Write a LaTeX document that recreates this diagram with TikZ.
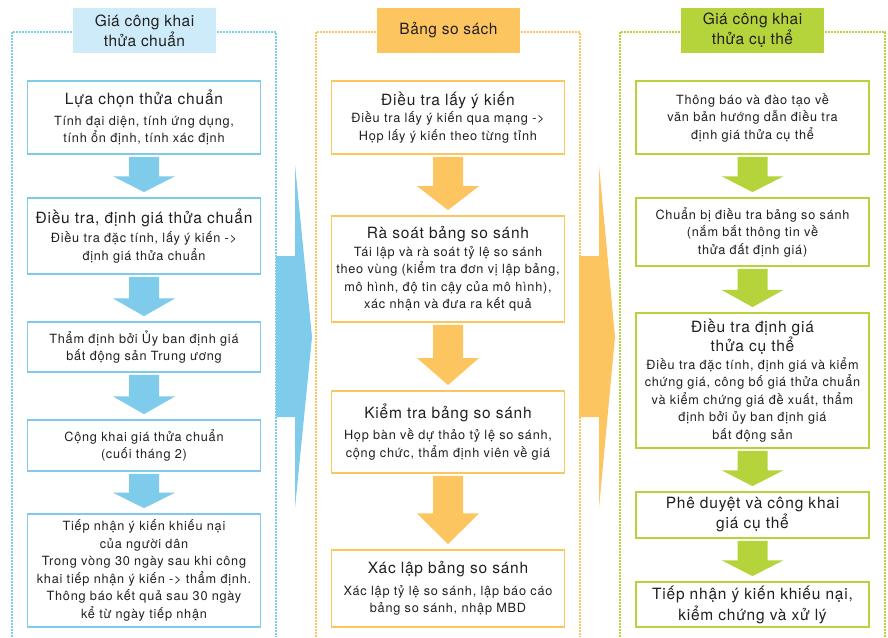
\documentclass[tikz,border=0pt]{standalone}
\usepackage{fontspec}
\setmainfont{TeX Gyre Heros}
\newfontfamily\bodyfam[LetterSpace=6]{TeX Gyre Heros}
\newfontfamily\headfam[LetterSpace=5]{TeX Gyre Heros}
\newfontfamily\colfam[LetterSpace=3]{TeX Gyre Heros}
\usetikzlibrary{calc}
\definecolor{bluefill}{HTML}{7ECBEB}
\definecolor{bluelight}{HTML}{CDEBF9}
\definecolor{orangefill}{HTML}{FDC560}
\definecolor{greenfill}{HTML}{B5D33B}
\definecolor{inktext}{HTML}{231F20}
\newcommand{\boxhead}[1]{{\headfam\fontsize{15.5}{19}\selectfont #1}}
\begin{document}
\begin{tikzpicture}[x=1pt, y=-1pt,
    stepbox/.style={draw=#1, line width=1.8pt, fill=white, text=inktext, align=center,
        inner sep=0pt, font=\bodyfam\fontsize{12.7}{17.5}\selectfont},
    headbox/.style={fill=#1, text=inktext, align=center, inner sep=0pt,
        minimum width=143, minimum height=45, font=\colfam\fontsize{15.5}{20}\selectfont},
    framedash/.style={draw=#1, line width=1.3pt, dash pattern=on 1.6pt off 1.4pt}]
    \useasboundingbox (0,0) rectangle (888,637);
    \def\colwidth{233}
    % block arrow between two boxes
    \def\flowarrow#1#2#3{%
        \coordinate (s) at ($(#1.south)+(0,2)$);
        \coordinate (t) at ($(#2.north)+(0,-5)$);
        \coordinate (m) at ($(s)!0.55!(t)$);
        \fill[#3] ($(s)+(-15,0)$) -- ($(s)+(15,0)$) -- ($(m)+(15,0)$) -- ($(m)+(31,0)$)
            -- (t) -- ($(m)+(-31,0)$) -- ($(m)+(-15,0)$) -- cycle;}
    % big arrows between columns
    \fill[bluefill] (276,256) -- (295,256) -- (295,165) -- (312,337) -- (295,508) -- (295,417) -- (276,417) -- cycle;
    \fill[orangefill] (579,256) -- (599,256) -- (599,165) -- (615,337) -- (599,508) -- (599,417) -- (579,417) -- cycle;
    % frames
    \draw[framedash=bluefill] (12,637) -- (12,32) -- (276,32) -- (276,637);
    \draw[framedash=orangefill] (316,637) -- (316,32) -- (580,32) -- (580,637);
    \draw[framedash=greenfill] (620,637) -- (620,32) -- (885,32) -- (885,637);
    % headings
    \node[headbox=bluelight] (bluehead) at (144.5,30.5) {Giá công khai\\thửa chuẩn};
    \node[headbox=orangefill] (orangehead) at (448.5,30.5) {Bảng so sách};
    \node[headbox=greenfill] (greenhead) at (752.5,30.5) {Giá công khai\\thửa cụ thể};
    % left column
    \node[stepbox=bluefill, minimum width=\colwidth, minimum height=73] (l1) at (144,117.5)
        {\boxhead{Lựa chọn thửa chuẩn}\\[3pt]Tính đại diện, tính ứng dụng,\\tính ổn định, tính xác định};
    \node[stepbox=bluefill, minimum width=\colwidth, minimum height=76] (l2) at (144,236)
        {\boxhead{Điều tra, định giá thửa chuẩn}\\[2pt]Điều tra đặc tính, lấy ý kiến ->\\định giá thửa chuẩn};
    \node[stepbox=bluefill, minimum width=\colwidth, minimum height=50] (l3) at (144,347)
        {Thẩm định bởi Ủy ban định giá\\bất động sản Trung ương};
    \node[stepbox=bluefill, minimum width=\colwidth, minimum height=51] (l4) at (144,445.5)
        {Cộng khai giá thửa chuẩn\\(cuối tháng 2)};
    \node[stepbox=bluefill, minimum width=\colwidth, minimum height=113] (l5) at (144,570.5)
        {Tiếp nhận ý kiến khiếu nại\\của người dân\\Trong vòng 30 ngày sau khi công\\khai tiếp nhận ý kiến -> thẩm định.\\Thông báo kết quả sau 30 ngày\\kể từ ngày tiếp nhận};
    % middle column
    \node[stepbox=orangefill, minimum width=\colwidth, minimum height=73] (m1) at (448,117.5)
        {\boxhead{Điều tra lấy ý kiến}\\Điều tra lấy ý kiến qua mạng ->\\Họp lấy ý kiến theo từng tỉnh};
    \node[stepbox=orangefill, minimum width=\colwidth, minimum height=106] (m2) at (448,269)
        {\boxhead{Rà soát bảng so sánh}\\Tái lập và rà soát tỷ lệ so sánh\\theo vùng (kiểm tra đơn vị lập bảng,\\mô hình, độ tin cậy của mô hình),\\xác nhận và đưa ra kết quả};
    \node[stepbox=orangefill, minimum width=\colwidth, minimum height=82] (m3) at (448,432)
        {\boxhead{Kiểm tra bảng so sánh}\\[4pt]Họp bàn về dự thảo tỷ lệ so sánh,\\cộng chức, thẩm định viên về giá};
    \node[stepbox=orangefill, minimum width=\colwidth, minimum height=77] (m4) at (448,588.5)
        {\boxhead{Xác lập bảng so sánh}\\[4pt]Xác lập tỷ lệ so sánh, lập báo cáo\\bảng so sánh, nhập MBD};
    % right column
    \node[stepbox=greenfill, minimum width=\colwidth, minimum height=73] (r1) at (752.5,117.5)
        {Thông báo và đào tạo về\\văn bản hướng dẫn điều tra\\định giá thửa cụ thể};
    \node[stepbox=greenfill, minimum width=\colwidth, minimum height=68] (r2) at (752.5,232)
        {Chuẩn bị điều tra bảng so sánh\\(nắm bắt thông tin về\\thửa đất định giá)};
    \node[stepbox=greenfill, minimum width=\colwidth, minimum height=135] (r3) at (752.5,380.5)
        {\boxhead{Điều tra định giá}\\\boxhead{thửa cụ thể}\\Điều tra đặc tính, định giá và kiểm\\chứng giá, công bố giá thửa chuẩn\\và kiểm chứng giá đề xuất, thẩm\\định bởi ủy ban định giá\\bất động sản};
    \node[stepbox=greenfill, minimum width=\colwidth, minimum height=46] (r4) at (752.5,515)
        {\boxhead{Phê duyệt và công khai}\\[1pt]\boxhead{giá cụ thể}};
    \node[stepbox=greenfill, minimum width=\colwidth, minimum height=45] (r5) at (752.5,604.5)
        {\boxhead{Tiếp nhận ý kiến khiếu nại,}\\[2pt]\boxhead{kiểm chứng và xử lý}};
    % arrows inside columns
    \foreach \a/\b in {l1/l2, l2/l3, l3/l4, l4/l5}
        \flowarrow{\a}{\b}{bluefill};
    \foreach \a/\b in {m1/m2, m2/m3, m3/m4}
        \flowarrow{\a}{\b}{orangefill};
    \foreach \a/\b in {r1/r2, r2/r3, r3/r4, r4/r5}
        \flowarrow{\a}{\b}{greenfill};
\end{tikzpicture}
\end{document}
